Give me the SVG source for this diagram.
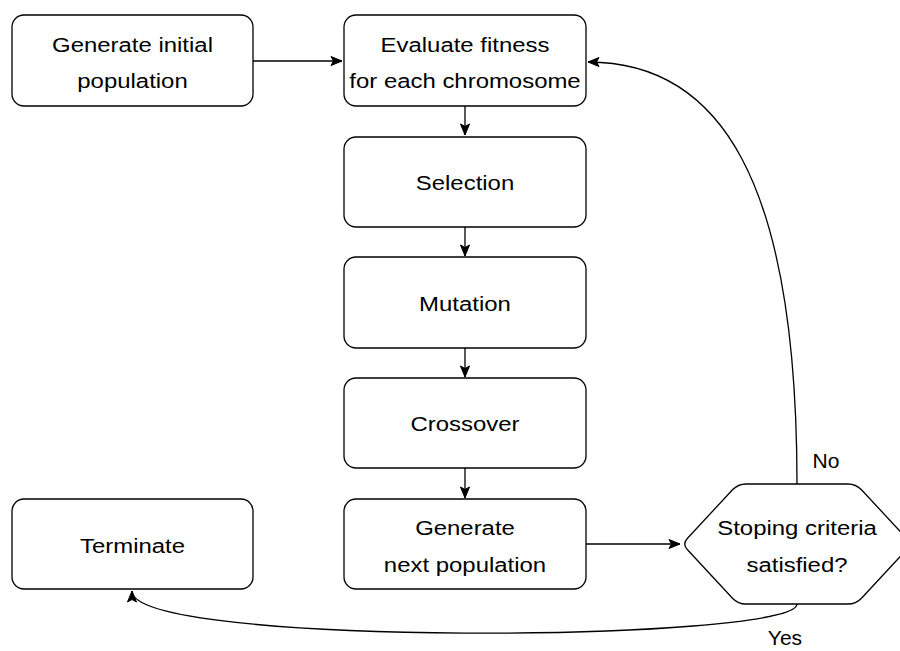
<svg xmlns="http://www.w3.org/2000/svg" width="900" height="651" viewBox="0 0 900 651">
  <style>
    .box { fill: #ffffff; stroke: #000000; stroke-width: 1.3; }
    .lbl { font-family: "Liberation Sans", Arial, Helvetica, sans-serif; font-size: 21px; fill: #000000; text-anchor: middle; }
    .edge { fill: none; stroke: #000000; stroke-width: 1.3; }
  </style>
  <defs>
    <marker id="arrow" markerUnits="userSpaceOnUse" markerWidth="13" markerHeight="11" refX="12" refY="5.5" orient="auto">
      <path d="M1,1 L12,5.5 L1,10 L3.5,5.5 Z" fill="#000000" stroke="#000000" stroke-width="1"/>
    </marker>
  </defs>

  <rect width="900" height="651" fill="#ffffff"/>

  <!-- connectors -->
  <g id="connectors">
    <path class="edge" d="M253,61 L342,61" marker-end="url(#arrow)"/>
    <path class="edge" d="M465,106 L465,135" marker-end="url(#arrow)"/>
    <path class="edge" d="M465,227 L465,256" marker-end="url(#arrow)"/>
    <path class="edge" d="M465,348 L465,377" marker-end="url(#arrow)"/>
    <path class="edge" d="M465,468 L465,498" marker-end="url(#arrow)"/>
    <path class="edge" d="M586,544 L680,544" marker-end="url(#arrow)"/>
    <!-- "No" loop back to the fitness evaluation -->
    <path class="edge" d="M797,484 C797,180 720,62 588,62" marker-end="url(#arrow)"/>
    <!-- "Yes" path to termination -->
    <path class="edge" d="M797,604 C797,642 132,648 132,591" marker-end="url(#arrow)"/>
    <text class="lbl" x="826" y="468">No</text>
    <text class="lbl" x="785" y="645">Yes</text>
  </g>

  <g id="init">
    <rect class="box" x="12" y="15" width="241" height="91" rx="12"/>
    <text class="lbl" transform="translate(132.5,52) scale(1.14,1)">Generate initial</text>
    <text class="lbl" transform="translate(132.5,88) scale(1.14,1)">population</text>
  </g>

  <g id="evaluate">
    <rect class="box" x="344" y="15" width="242" height="91" rx="12"/>
    <text class="lbl" transform="translate(465,52) scale(1.14,1)">Evaluate fitness</text>
    <text class="lbl" transform="translate(465,88) scale(1.14,1)">for each chromosome</text>
  </g>

  <g id="selection">
    <rect class="box" x="344" y="137" width="242" height="90" rx="12"/>
    <text class="lbl" transform="translate(465,190) scale(1.14,1)">Selection</text>
  </g>

  <g id="mutation">
    <rect class="box" x="344" y="257" width="242" height="91" rx="12"/>
    <text class="lbl" transform="translate(465,311) scale(1.14,1)">Mutation</text>
  </g>

  <g id="crossover">
    <rect class="box" x="344" y="378" width="242" height="90" rx="12"/>
    <text class="lbl" transform="translate(465,431) scale(1.14,1)">Crossover</text>
  </g>

  <g id="next-population">
    <rect class="box" x="344" y="499" width="242" height="90" rx="12"/>
    <text class="lbl" transform="translate(465,535) scale(1.14,1)">Generate</text>
    <text class="lbl" transform="translate(465,572) scale(1.14,1)">next population</text>
  </g>

  <g id="terminate">
    <rect class="box" x="12" y="499" width="241" height="90" rx="12"/>
    <text class="lbl" transform="translate(132.5,553) scale(1.14,1)">Terminate</text>
  </g>

  <g id="stop-check">
    <path class="box" d="M746,484 L848,484 Q856,484 861.5,489.8 L906.5,538.2 Q912,544 906.5,549.8 L861.5,598.2 Q856,604 848,604 L746,604 Q738,604 732.5,598.2 L687.5,549.8 Q682,544 687.5,538.2 L732.5,489.8 Q738,484 746,484 Z"/>
    <text class="lbl" transform="translate(797,535) scale(1.14,1)">Stoping criteria</text>
    <text class="lbl" transform="translate(797,572) scale(1.14,1)">satisfied?</text>
  </g>
</svg>
